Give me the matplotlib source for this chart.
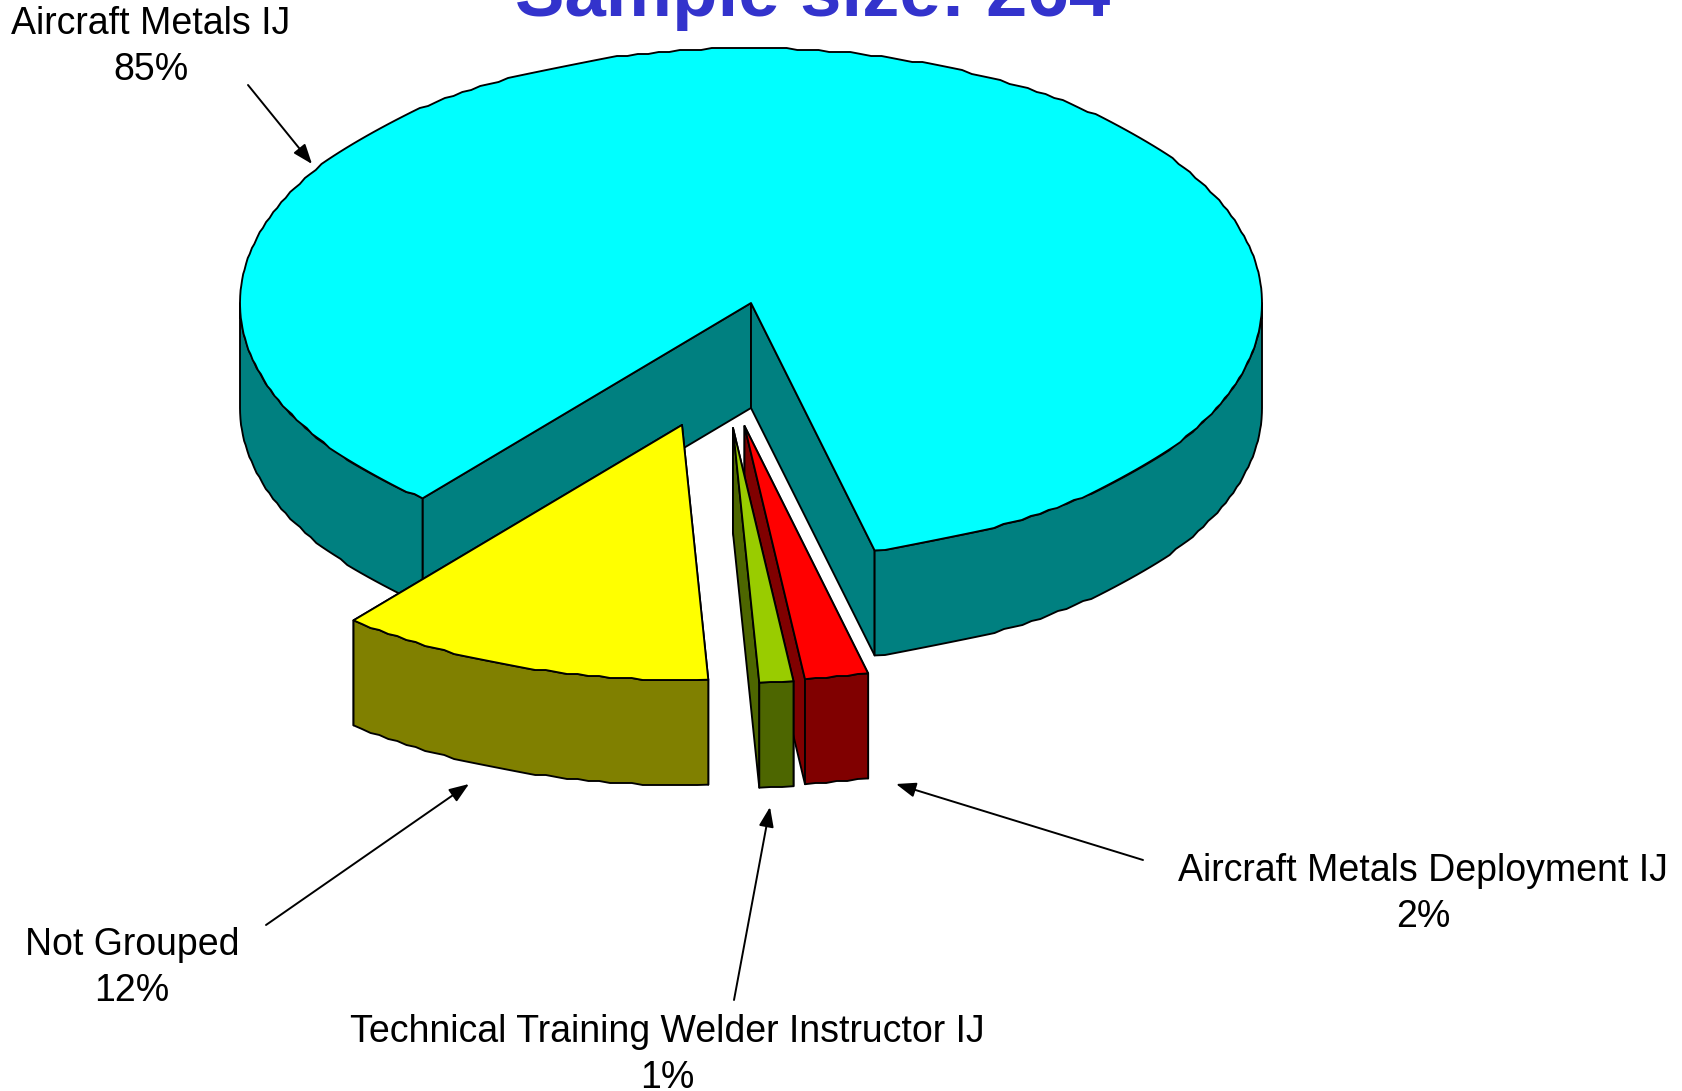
import numpy as np
import matplotlib
matplotlib.use('Agg')
import matplotlib.pyplot as plt
from matplotlib.patches import Polygon

plt.rcParams['font.family'] = ['Liberation Sans', 'DejaVu Sans']

categories = ['Aircraft Metals Deployment IJ', 'Technical Training Welder Instructor IJ',
              'Not Grouped', 'Aircraft Metals IJ']
values = [2.0, 1.07, 11.93, 85.0]
top_colors = ['#FF0000', '#99CC00', '#FFFF00', '#00FFFF']
side_colors = ['#800000', '#4D6600', '#808000', '#008080']
# how far each slice has been pulled out of the pie, in pixels
offsets = [(-6.5, 123), (-18, 125), (-69, 122), (0, 0)]

# where the labels and arrows sit: label x, label y, arrow start, arrow tip
label_pos = [(1423, 894), (667, 1055), (132, 968), (151, 47)]
arrow_start = [(1143, 860), (734, 1000), (266, 925), (248, 85)]
arrow_end = [(896, 784), (770, 807), (469, 784), (312, 164)]

cx, cy = 751, 303
rx, ry = 511, 255
depth = 105
start_angle = 76
edge_lw = 1.35


def ellipse_pts(t0, t1, ox, oy):
    # arc is sampled coarsely and snapped, the original outline is stepped too
    n = max(2, int(abs(t1 - t0) / 1.2) + 1)
    t = np.radians(np.linspace(t0, t1, n))
    x = cx + ox + rx * np.cos(t)
    y = cy + oy + ry * np.sin(t)
    y[1:-1] = np.round(y[1:-1] / 2) * 2
    return np.column_stack([x, y])


def add_poly(ax, pts, color, z):
    ax.add_patch(Polygon(pts, closed=True, facecolor=color, edgecolor='black',
                         linewidth=edge_lw, joinstyle='round', zorder=z))


def draw_slice(ax, t0, t1, top, side, ox, oy, z):
    apex = np.array([cx + ox, cy + oy])
    down = np.array([0, depth])
    for t in (t0, t1):
        end = ellipse_pts(t, t, ox, oy)[0]
        add_poly(ax, [apex, end, end + down, apex + down], side, z)
    # outer wall only shows on the front half of the ellipse
    for lo, hi in ((t0, t1), (t0 - 360, t1 - 360)):
        a, b = max(lo, 0), min(hi, 180)
        if b > a:
            arc = ellipse_pts(a, b, ox, oy)
            add_poly(ax, np.vstack([arc, (arc + down)[::-1]]), side, z)
    add_poly(ax, np.vstack([[apex], ellipse_pts(t0, t1, ox, oy)]), top, z)


fig = plt.figure(figsize=(16.82, 10.91), dpi=100)
ax = fig.add_axes([0, 0, 1, 1])
ax.set_xlim(0, 1682)
ax.set_ylim(1091, 0)
ax.axis('off')

angles = np.array(values) / sum(values) * 360
starts = start_angle + np.concatenate([[0], np.cumsum(angles)[:-1]])
# big slice goes first so the pulled out ones land on top of it
for i in [3, 0, 1, 2]:
    draw_slice(ax, starts[i], starts[i] + angles[i], top_colors[i], side_colors[i],
               offsets[i][0], offsets[i][1], i if i != 3 else -1)

ax.text(813, 16, 'Sample size: 264', color='#3333CC', fontsize=53.6, fontweight='bold',
        ha='center', va='baseline')

for i in range(len(categories)):
    ax.text(label_pos[i][0], label_pos[i][1], f'{categories[i]}\n{round(values[i])}%',
            fontsize=27, ha='center', va='center', linespacing=1.33, color='black')
    ax.annotate('', xy=arrow_end[i], xytext=arrow_start[i],
                arrowprops=dict(arrowstyle='-|>,head_length=1.2,head_width=0.45', color='black',
                                lw=1.4, shrinkA=0, shrinkB=0))

fig.savefig('out.png', dpi=100)
